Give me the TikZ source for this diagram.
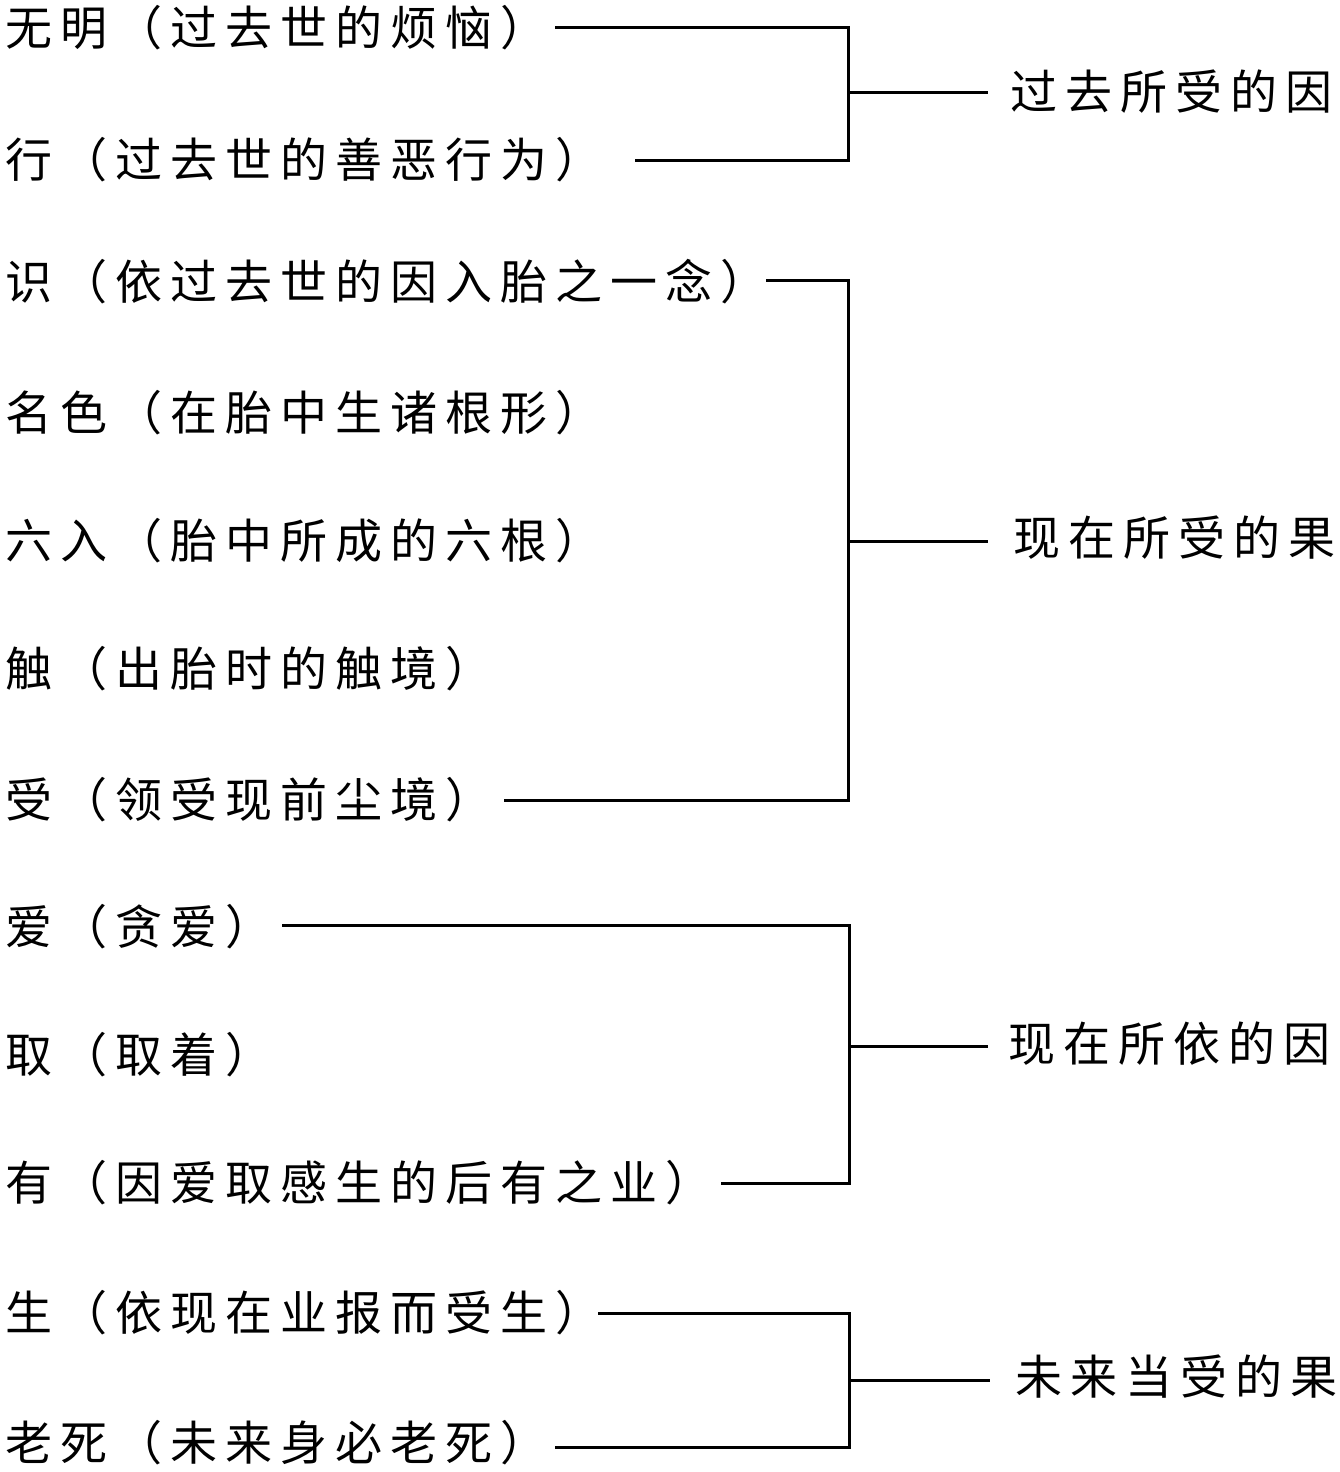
\documentclass[tikz,border=0pt]{standalone}
\usepackage{fontspec}
\newfontfamily\cjk[LetterSpace=17]{Noto Sans CJK SC}
\begin{document}
\begin{tikzpicture}[x=1pt,y=-1pt,
  item/.style={anchor=west,inner sep=0pt,font=\cjk\fontsize{47}{50}\selectfont},
  grp/.style={anchor=west,inner sep=0pt,font=\cjk\fontsize{47}{50}\selectfont},
  br/.style={line width=3pt}]
\useasboundingbox[fill=white] (0,0) rectangle (1340,1472);
% items
\node[item] (a1) at (5,28) {无明（过去世的烦恼）};
\node[item] (a2) at (5,160) {行（过去世的善恶行为）};
\node[item] (b1) at (5,282) {识（依过去世的因入胎之一念）};
\node[item] (b2) at (5,413) {名色（在胎中生诸根形）};
\node[item] (b3) at (5,541) {六入（胎中所成的六根）};
\node[item] (b4) at (5,669) {触（出胎时的触境）};
\node[item] (b5) at (5,800) {受（领受现前尘境）};
\node[item] (c1) at (5,927) {爱（贪爱）};
\node[item] (c2) at (5,1055) {取（取着）};
\node[item] (c3) at (5,1183) {有（因爱取感生的后有之业）};
\node[item] (d1) at (5,1313) {生（依现在业报而受生）};
\node[item] (d2) at (5,1443) {老死（未来身必老死）};
% group labels
\node[grp] (g1) at (1010,92) {过去所受的因};
\node[grp] (g2) at (1013,538) {现在所受的果};
\node[grp] (g3) at (1008,1044) {现在所依的因};
\node[grp] (g4) at (1015,1377) {未来当受的果};
% bracket corners
\coordinate (t1) at (848,28);  \coordinate (u1) at (848,160); \coordinate (m1) at (848,92);
\coordinate (t2) at (848,280); \coordinate (u2) at (848,800); \coordinate (m2) at (848,541);
\coordinate (t3) at (849,925); \coordinate (u3) at (849,1183); \coordinate (m3) at (849,1046);
\coordinate (t4) at (849,1313); \coordinate (u4) at (849,1447); \coordinate (m4) at (849,1380);
% brackets
\draw[br] ([xshift=8pt]a1.east |- t1) -- (t1) -- (u1) -- ([xshift=33pt]a2.east |- u1);
\draw[br] (m1) -- ([xshift=-22pt]g1.west |- m1);
\draw[br] ([xshift=-1pt]b1.east |- t2) -- (t2) -- (u2) -- ([xshift=12pt]b5.east |- u2);
\draw[br] (m2) -- ([xshift=-25pt]g2.west |- m2);
\draw[br] ([xshift=10pt]c1.east |- t3) -- (t3) -- (u3) -- ([xshift=9pt]c3.east |- u3);
\draw[br] (m3) -- ([xshift=-20pt]g3.west |- m3);
\draw[br] ([xshift=-4pt]d1.east |- t4) -- (t4) -- (u4) -- ([xshift=8pt]d2.east |- u4);
\draw[br] (m4) -- ([xshift=-25pt]g4.west |- m4);
\end{tikzpicture}
\end{document}
